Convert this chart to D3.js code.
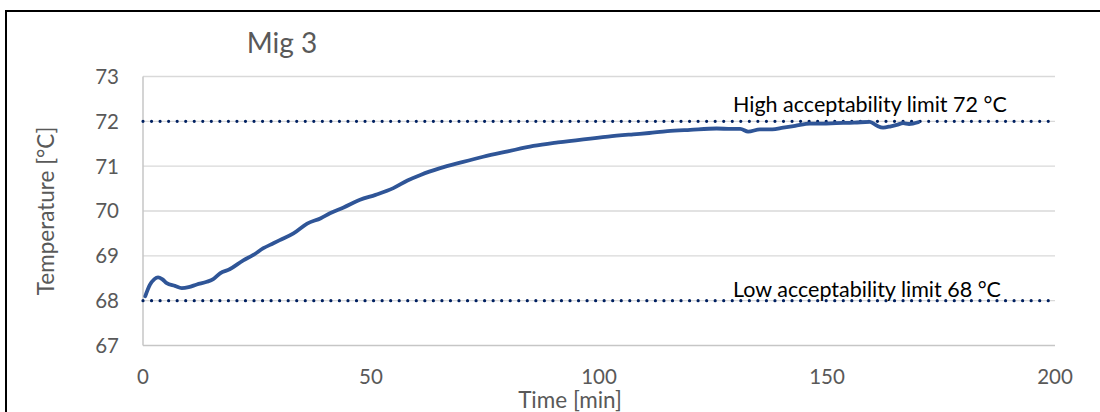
<!DOCTYPE html>
<html><head><meta charset="utf-8">
<script src="https://cdn.jsdelivr.net/npm/d3@7"></script>
<style>body{margin:0;background:#fff}svg{display:block}</style>
</head><body><svg id="c" width="1100" height="412"></svg>
<script>
const title = "Mig 3";
const xLabel = "Time [min]";
const yLabel = "Temperature [°C]";
const xTicks = [0, 50, 100, 150, 200];
const yTicks = [67, 68, 69, 70, 71, 72, 73];
const time = [0.5,1.5,2.5,3.3,4.2,5.2,7,8.5,10,11.8,14,15.4,16.9,19,22,24.2,26.4,28.6,30,33,36,39,41,44,47.6,51,54.9,58,61,65,70,74.6,80,85.6,91,96.6,102,107.5,111,115,120,125.8,129,131,132.7,135.3,138,140.4,143,146.3,149,152,156,159.4,161,162.3,164,165.3,166.7,168,170];
const temp = [68.10,68.35,68.48,68.52,68.48,68.39,68.33,68.28,68.30,68.36,68.42,68.48,68.61,68.70,68.90,69.02,69.17,69.28,69.35,69.50,69.72,69.84,69.95,70.08,70.25,70.36,70.51,70.68,70.81,70.95,71.09,71.21,71.33,71.45,71.53,71.60,71.66,71.71,71.74,71.78,71.81,71.84,71.83,71.83,71.77,71.82,71.82,71.86,71.90,71.95,71.95,71.96,71.97,71.99,71.90,71.86,71.89,71.92,71.96,71.94,71.98];
const limits = [{v:72, label:"High acceptability limit 72 °C"},{v:68, label:"Low acceptability limit 68 °C"}];

const svg = d3.select("#c");
const font = "Lato, 'Open Sans', sans-serif";
const x = d3.scaleLinear().domain([0,200]).range([143,1055]);
const y = d3.scaleLinear().domain([67,73]).range([345.5,76.5]);

// outer frame
svg.append("rect").attr("x",6).attr("y",11).attr("width",1200).attr("height",600)
  .attr("fill","none").attr("stroke","#000").attr("stroke-width",2);

// gridlines
svg.append("g").selectAll("line").data(yTicks.filter(d=>d!==67)).join("line")
  .attr("x1",x(0)).attr("x2",x(200)).attr("y1",d=>y(d)).attr("y2",d=>y(d))
  .attr("stroke","#d9d9d9").attr("stroke-width",1.3);
// axes lines
svg.append("line").attr("x1",x(0)).attr("x2",x(200)).attr("y1",y(67)).attr("y2",y(67)).attr("stroke","#c6c6c6").attr("stroke-width",1.5);
svg.append("line").attr("x1",x(0)).attr("x2",x(0)).attr("y1",y(73)).attr("y2",y(67)).attr("stroke","#c6c6c6").attr("stroke-width",1.5);

// tick labels
svg.append("g").selectAll("text").data(yTicks).join("text")
  .attr("x",119).attr("y",d=>y(d)).attr("dy","0.36em").attr("text-anchor","end")
  .attr("font-family",font).attr("font-size",20.5).attr("fill","#595959").text(d=>d);
svg.append("g").selectAll("text").data(xTicks).join("text")
  .attr("x",d=>x(d)).attr("y",384).attr("text-anchor","middle")
  .attr("font-family",font).attr("font-size",20.5).attr("fill","#595959").text(d=>d);

// titles
svg.append("text").attr("x",282).attr("y",53).attr("text-anchor","middle")
  .attr("font-family",font).attr("font-size",28).attr("fill","#595959").text(title);
svg.append("text").attr("x",570).attr("y",408).attr("text-anchor","middle")
  .attr("font-family",font).attr("font-size",22.5).attr("fill","#595959").text(xLabel);
svg.append("text").attr("transform","translate(54,211) rotate(-90)").attr("text-anchor","middle")
  .attr("font-family",font).attr("font-size",22.5).attr("fill","#595959").text(yLabel);

// limit lines
svg.append("g").selectAll("line").data(limits).join("line")
  .attr("x1",x(0)).attr("x2",x(200)).attr("y1",d=>y(d.v)).attr("y2",d=>y(d.v))
  .attr("stroke","#002060").attr("stroke-width",3.2).attr("stroke-linecap","round")
  .attr("stroke-dasharray","0.01 8.53");

// data line
const pts = time.map((t,i)=>[t,temp[i]]);
svg.append("path").datum(pts)
  .attr("d", d3.line().x(d=>x(d[0])).y(d=>y(d[1])).curve(d3.curveMonotoneX))
  .attr("fill","none").attr("stroke","#2f5597").attr("stroke-width",3.8)
  .attr("stroke-linejoin","round").attr("stroke-linecap","round");

// limit labels
svg.append("g").selectAll("text").data(limits).join("text")
  .attr("x",733).attr("y",d=>d.v===72?111.7:297.3)
  .attr("font-family",font).attr("font-size",21.5).attr("fill","#000").text(d=>d.label);
</script></body></html>
